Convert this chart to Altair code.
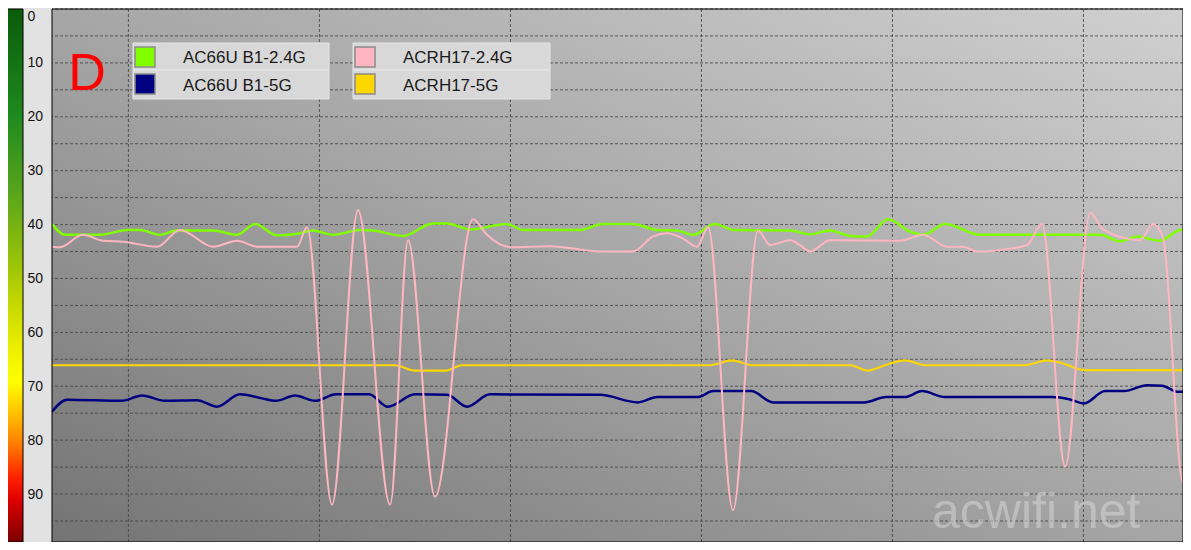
import altair as alt
import pandas as pd

SERIES = ["AC66U B1-2.4G", "AC66U B1-5G", "ACRH17-2.4G", "ACRH17-5G"]
COLORS = ["#80ff00", "#000080", "#ffb6c1", "#ffd700"]
WIDTHS = [2.5, 2.5, 2.0, 2.2]

green_x = [0.0, 0.68, 2.51, 3.98, 4.61, 5.65, 6.54, 8.43, 9.69, 10.63, 11.78, 12.98, 13.66, 14.71,
           16.13, 16.81, 18.38, 19.95, 20.68, 21.88, 23.82, 24.66, 27.64, 28.85, 30.42, 31.68, 32.72,
           33.56, 34.71, 35.65, 38.64, 39.69, 40.73, 41.78, 42.67, 43.77, 44.92, 45.60, 46.75, 48.59,
           54.87, 55.92, 56.81, 58.01, 59.06, 59.63]
green_y = [39.9, 41.9, 41.9, 41.0, 41.0, 41.9, 41.1, 41.1, 41.9, 39.9, 42.0, 41.6, 41.1, 41.9,
           41.0, 41.1, 42.1, 39.8, 39.8, 40.9, 39.9, 41.0, 41.0, 39.9, 39.9, 41.0, 41.1,
           41.9, 39.9, 41.0, 41.1, 41.8, 41.1, 42.1, 42.2, 39.0, 41.3, 41.9, 39.9, 41.9,
           41.9, 43.1, 42.2, 43.0, 41.0, 40.9]

blue_x = [0.0, 0.79, 3.66, 4.71, 5.92, 7.59, 8.64, 9.84, 10.94, 11.73, 12.72, 13.77, 14.87, 16.60,
          17.59, 19.01, 20.68, 21.73, 22.93, 28.69, 30.68, 31.68, 33.82, 34.61, 36.60, 37.75, 42.51,
          43.66, 44.66, 45.55, 46.75, 52.36, 53.25, 54.03, 55.13, 56.13, 57.33, 58.12, 58.90, 59.63]
blue_y = [74.7, 72.5, 72.7, 71.7, 72.7, 72.6, 73.8, 71.5, 72.2, 72.7, 71.7, 72.7, 71.5, 71.5,
          73.8, 71.5, 71.6, 73.8, 71.5, 71.6, 73.0, 72.0, 72.0, 70.9, 70.9, 73.0, 73.0,
          72.0, 72.0, 70.9, 72.0, 72.0, 72.4, 73.2, 70.9, 70.9, 69.8, 69.9, 71.0, 71.0]

pink_x = [0.0, 0.42, 1.62, 2.67, 3.72, 5.50, 6.70, 8.43, 9.69, 10.73, 12.83, 13.35, 14.66, 16.02,
          17.70, 18.64, 20.05, 22.04, 22.77, 23.98, 26.07, 28.69, 30.42, 31.47, 32.20, 33.04, 33.77,
          34.35, 35.65, 36.96, 37.59, 38.64, 39.16, 39.69, 40.73, 44.40, 45.60, 46.86, 47.70, 48.43,
          49.63, 51.05, 51.83, 53.04, 54.35, 55.03, 56.96, 57.64, 58.17, 59.21, 59.63]
pink_y = [44.1, 44.2, 41.9, 43.0, 43.2, 44.1, 41.0, 44.1, 43.0, 44.1, 44.1, 40.5, 92.0, 37.3,
          92.0, 42.9, 90.5, 39.0, 41.9, 44.2, 44.0, 45.0, 45.0, 42.2, 41.6, 42.6, 44.1,
          40.5, 93.0, 41.1, 43.8, 42.9, 43.8, 45.0, 42.9, 43.0, 41.9, 44.1, 44.1, 45.0,
          44.7, 43.8, 39.9, 84.9, 37.8, 40.9, 42.9, 39.9, 42.5, 87.9, 87.4]

yellow_x = [0.0, 17.96, 19.01, 20.58, 21.47, 34.45, 35.60, 36.65, 41.78, 42.72, 43.61, 44.66,
            45.71, 50.94, 52.09, 52.77, 54.03, 59.63]
yellow_y = [66.1, 66.1, 67.1, 67.1, 66.1, 66.1, 65.2, 66.1, 66.1, 67.1, 66.1, 65.2,
            66.1, 66.1, 65.2, 65.6, 67.0, 67.0]

grid_x = [4, 14, 24, 34, 44, 54]
grid_y = list(range(0, 100, 5))
y_ticks = list(range(0, 101, 10))

W, H = 1131, 533
X_MAX = 59.21
Y_MAX = 98.9

xs = alt.Scale(domain=[0, X_MAX], nice=False, zero=False)
ys = alt.Scale(domain=[0, Y_MAX], nice=False, zero=False, reverse=True)

FONT = "Liberation Sans"

Y_AXIS = alt.Axis(
    values=y_ticks, labelExpr="datum.value % 10 == 0 ? datum.label : ''",
    grid=False, ticks=False, tickSize=0, domain=False, title=None,
    labelAlign="left", labelPadding=25, labelFont=FONT, labelFontSize=14,
    labelColor="#111111", labelOverlap=False,
    labelBaseline={"condition": {"test": "datum.value == 0", "value": "top"}, "value": "middle"})

# plot background gradient
bg = alt.Chart(pd.DataFrame({"a": [0]})).mark_rect(
    fill=alt.Gradient(gradient="linear", x1=0, y1=1, x2=1, y2=0,
                      stops=[alt.GradientStop(color="#747474", offset=0),
                             alt.GradientStop(color="#a6a6a6", offset=0.5),
                             alt.GradientStop(color="#d0d0d0", offset=1)])
).encode(x=alt.value(0), x2=alt.value(W), y=alt.value(0), y2=alt.value(H))

hgrid = alt.Chart(pd.DataFrame({"v": grid_y})).mark_rule(
    color="#464646", strokeDash=[3, 2], strokeWidth=1, opacity=0.85
).encode(y=alt.Y("v:Q", scale=ys, axis=Y_AXIS))

vgrid = alt.Chart(pd.DataFrame({"v": grid_x})).mark_rule(
    color="#464646", strokeDash=[3, 2], strokeWidth=1, opacity=0.85
).encode(x=alt.X("v:Q", scale=xs, axis=None))

# color bar
cbar = alt.Chart(pd.DataFrame({"a": [0]})).mark_rect(
    fill=alt.Gradient(gradient="linear", x1=0, y1=0, x2=0, y2=1,
                      stops=[alt.GradientStop(color="#0a5c0a", offset=0),
                             alt.GradientStop(color="#1e8a1e", offset=0.2),
                             alt.GradientStop(color="#56a41c", offset=0.34),
                             alt.GradientStop(color="#8cbd0c", offset=0.45),
                             alt.GradientStop(color="#c8da00", offset=0.56),
                             alt.GradientStop(color="#f2f200", offset=0.65),
                             alt.GradientStop(color="#ffff00", offset=0.7),
                             alt.GradientStop(color="#ffb400", offset=0.77),
                             alt.GradientStop(color="#ff7800", offset=0.82),
                             alt.GradientStop(color="#ff2000", offset=0.88),
                             alt.GradientStop(color="#e00000", offset=0.92),
                             alt.GradientStop(color="#7a0000", offset=1)]),
    stroke="black", strokeWidth=1
).encode(x=alt.value(-46), x2=alt.value(-29), y=alt.value(0), y2=alt.value(H))

series_data = [(green_x, green_y), (blue_x, blue_y), (pink_x, pink_y), (yellow_x, yellow_y)]
draw_order = [0, 1, 3, 2]
lines = []
for i in draw_order:
    xv, yv = series_data[i]
    df = pd.DataFrame({"x": xv, "y": yv})
    lines.append(alt.Chart(df).mark_line(
        color=COLORS[i], strokeWidth=WIDTHS[i], interpolate="monotone", clip=True
    ).encode(x=alt.X("x:Q", scale=xs, axis=None), y=alt.Y("y:Q", scale=ys, axis=Y_AXIS)))

# legend
leg = []
gx0 = [81, 301]
gx1 = [277, 498]
ry0 = [34, 61]
ry1 = [61, 90]
for i, name in enumerate(SERIES):
    g, r = i // 2, i % 2
    leg.append(alt.Chart(pd.DataFrame({"a": [0]})).mark_rect(
        fill="#d8d8d8", stroke="#e6e6e6", strokeWidth=1
    ).encode(x=alt.value(gx0[g]), x2=alt.value(gx1[g]), y=alt.value(ry0[r]), y2=alt.value(ry1[r])))
    sy = ry0[r] + 4
    leg.append(alt.Chart(pd.DataFrame({"a": [0]})).mark_rect(
        fill=COLORS[i], stroke="#8a8a8a", strokeWidth=1.5
    ).encode(x=alt.value(gx0[g] + 2), x2=alt.value(gx0[g] + 22), y=alt.value(sy), y2=alt.value(sy + 20)))
    leg.append(alt.Chart(pd.DataFrame({"a": [0]})).mark_text(
        align="left", baseline="middle", font=FONT, fontSize=17, color="#1a1a1a"
    ).encode(x=alt.value(gx0[g] + 50), y=alt.value((ry0[r] + ry1[r]) / 2 + 1), text=alt.value(name)))

dtext = alt.Chart(pd.DataFrame({"a": [0]})).mark_text(
    align="center", baseline="alphabetic", font=FONT, fontSize=52, color="#ff0000"
).encode(x=alt.value(35), y=alt.value(81), text=alt.value("D"))

wm = alt.Chart(pd.DataFrame({"a": [0]})).mark_text(
    align="left", baseline="alphabetic", font=FONT, fontSize=50, color="#d6d6d6", opacity=0.55
).encode(x=alt.value(880), y=alt.value(519), text=alt.value("acwifi.net"))

border = alt.Chart(pd.DataFrame({"a": [0]})).mark_rect(
    fillOpacity=0, stroke="#000000", strokeWidth=1
).encode(x=alt.value(0), x2=alt.value(W), y=alt.value(0), y2=alt.value(H))

chart = alt.layer(bg, hgrid, vgrid, cbar, *lines, *leg, dtext, wm, border).properties(
    width=W, height=H,
    autosize=alt.AutoSizeParams(type="none"),
    padding={"left": 44, "top": 1, "right": 0, "bottom": 0},
    background="#e2e2e2",
).configure_view(strokeWidth=0)

chart.save("out.html", embed_options={"renderer": "svg", "actions": False})
